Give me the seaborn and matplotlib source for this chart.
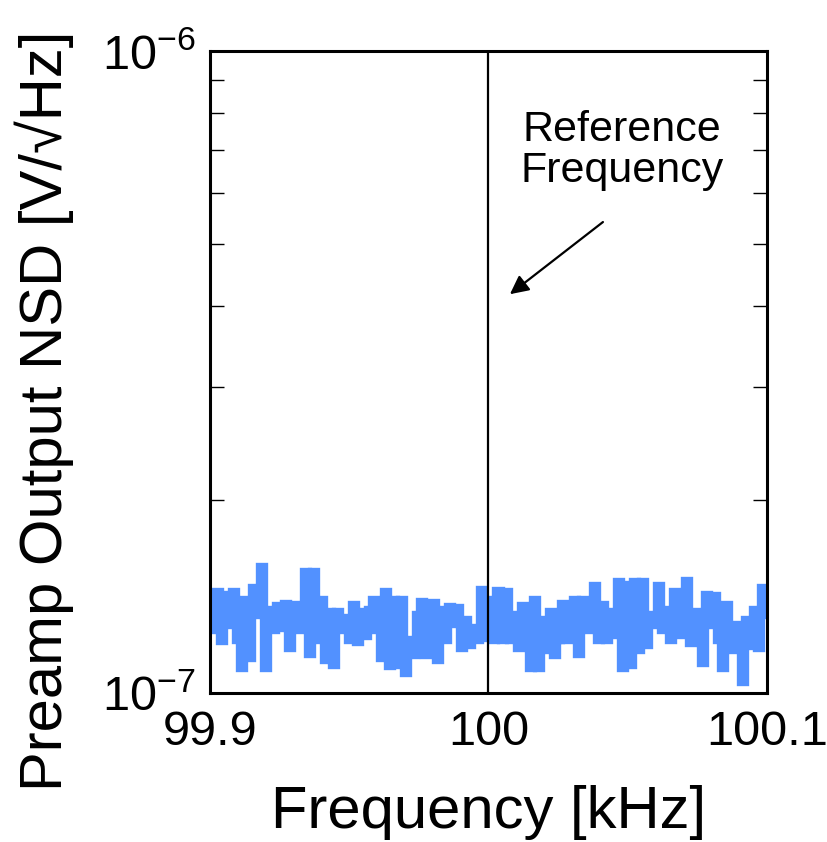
import numpy as np
import pandas as pd
import matplotlib
matplotlib.use("Agg")
import matplotlib.pyplot as plt
import seaborn as sns

# Preamp output noise spectral density around the 100 kHz reference (units of 1e-7 V/sqrt(Hz))
nsd_e7 = [
    1.323, 1.254, 1.436, 1.205, 1.421, 1.276, 1.436, 1.209, 1.094, 1.396,
    1.134, 1.457, 1.323, 1.572, 1.094, 1.347, 1.254, 1.366, 1.262, 1.376,
    1.175, 1.371, 1.254, 1.290, 1.543, 1.150, 1.543, 1.209, 1.396, 1.126,
    1.337, 1.106, 1.337, 1.254, 1.309,
    1.209, 1.371, 1.200, 1.337, 1.227, 1.347, 1.396, 1.254, 1.134, 1.436,
    1.102, 1.396, 1.106, 1.396, 1.074, 1.209, 1.146, 1.323, 1.386, 1.146,
    1.299, 1.381, 1.126, 1.347, 1.209, 1.361, 1.281, 1.356, 1.175, 1.299,
    1.188, 1.262, 1.209, 1.447, 1.218, 1.396,
    1.209, 1.441, 1.209, 1.436, 1.209, 1.323, 1.175, 1.366, 1.188, 1.094,
    1.396, 1.094, 1.299, 1.167, 1.337, 1.146, 1.209, 1.376, 1.209, 1.337,
    1.396, 1.150, 1.396, 1.254, 1.299, 1.468, 1.209, 1.371, 1.209, 1.337,
    1.231, 1.489, 1.094, 1.473, 1.106,
    1.489, 1.167, 1.489, 1.188, 1.323, 1.276, 1.468, 1.254, 1.347, 1.209,
    1.436, 1.231, 1.299, 1.495, 1.196, 1.337, 1.231, 1.114, 1.421, 1.276,
    1.416, 1.209, 1.094, 1.371, 1.167, 1.276, 1.209, 1.040, 1.299, 1.184,
    1.347, 1.175, 1.457, 1.323,
]
freq_start_khz = 99.9
freq_stop_khz = 100.1
reference_khz = 100.0
x_ticks = [99.9, 100.0, 100.1]
x_tick_labels = ["99.9", "100", "100.1"]
y_limits = [1e-7, 1e-6]

freq = np.linspace(freq_start_khz, freq_stop_khz, len(nsd_e7))
df = pd.DataFrame({"freq": freq, "nsd": np.array(nsd_e7) * 1e-7})

sns.set_theme(style="white")
plt.rcParams["font.family"] = ["Liberation Sans", "DejaVu Sans"]
plt.rcParams["mathtext.fontset"] = "custom"
plt.rcParams["mathtext.rm"] = "Liberation Sans"
plt.rcParams["mathtext.it"] = "Liberation Sans:italic"
plt.rcParams["mathtext.bf"] = "Liberation Sans:bold"

fig = plt.figure(figsize=(8.28, 8.42), dpi=100)
ax = fig.add_axes([0.2536, 0.177, 0.6727, 0.7624])

sns.lineplot(data=df, x="freq", y="nsd", ax=ax, color="#5291ff",
             linewidth=6.0, drawstyle="steps-mid",
             solid_joinstyle="miter", solid_capstyle="butt",
             legend=False, zorder=2)

ax.axvline(reference_khz, color="black", linewidth=1.6, zorder=3)

ax.set_yscale("log")
ax.set_ylim(*y_limits)
ax.set_xlim(freq_start_khz, freq_stop_khz)
ax.set_xticks(x_ticks)
ax.set_xticklabels(x_tick_labels)

ax.tick_params(axis="both", which="both", direction="in", colors="black",
               labelsize=35, right=True, top=False, left=True, bottom=True)
ax.tick_params(axis="y", which="major", length=12, width=1.2, pad=10)
ax.tick_params(axis="y", which="minor", length=10, width=1.0)
ax.tick_params(axis="x", which="major", length=10, width=1.2, pad=12)

for s in ax.spines.values():
    s.set_visible(True)
    s.set_color("black")
    s.set_linewidth(2.2)

ax.set_xlabel("Frequency [kHz]", fontsize=43, labelpad=22, color="black")
ax.set_ylabel("Preamp Output NSD [V/\u221aHz]", fontsize=43, color="black")
ax.yaxis.set_label_coords(-0.245, 0.44)

ax.text(100.0479, 7.0e-7, "Reference\nFrequency", fontsize=31,
        ha="center", va="center", multialignment="center",
        linespacing=1.05, color="black")
ax.annotate("", xy=(100.0077, 4.18e-7), xytext=(100.0411, 5.415e-7),
            arrowprops=dict(arrowstyle="-|>", color="black", lw=1.6,
                            mutation_scale=28, shrinkA=0, shrinkB=0))

fig.savefig("out.png", dpi=100, facecolor="white")
